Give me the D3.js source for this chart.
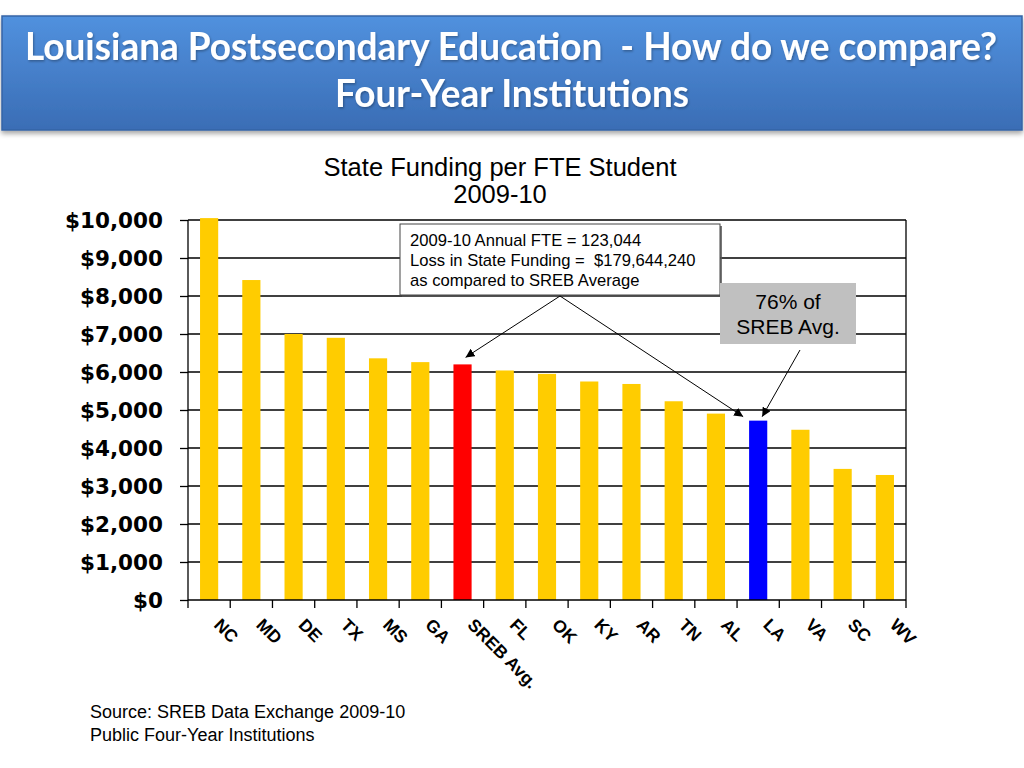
<!DOCTYPE html>
<html><head><meta charset="utf-8">
<script src="https://cdn.jsdelivr.net/npm/d3@7"></script>
<style>body{margin:0;background:#fff;}svg{display:block;}text{white-space:pre;}</style>
</head><body>
<svg id="c" width="1024" height="768"></svg>
<script>
const states = ["NC","MD","DE","TX","MS","GA","SREB Avg.","FL","OK","KY","AR","TN","AL","LA","VA","SC","WV"];
const funding = [10050,8420,7000,6900,6360,6260,6200,6040,5950,5750,5685,5230,4905,4720,4480,3450,3290];
const yTicks = [0,1000,2000,3000,4000,5000,6000,7000,8000,9000,10000];
const titleLines = ["Louisiana Postsecondary Education  - How do we compare?","Four-Year Institutions"];
const chartTitle = ["State Funding per FTE Student","2009-10"];
const noteLines = ["2009-10 Annual FTE = 123,044","Loss in State Funding =  $179,644,240","as compared to SREB Average"];
const calloutLines = ["76% of","SREB Avg."];
const sourceLines = ["Source: SREB Data Exchange 2009-10","Public Four-Year Institutions"];

const svg = d3.select("#c");
const defs = svg.append("defs");
const g1 = defs.append("linearGradient").attr("id","hdr").attr("x1",0).attr("y1",0).attr("x2",0).attr("y2",1);
g1.append("stop").attr("offset","0%").attr("stop-color","#5191de");
g1.append("stop").attr("offset","100%").attr("stop-color","#3a6db5");
const f = defs.append("filter").attr("id","sh").attr("x","-5%").attr("y","-10%").attr("width","110%").attr("height","130%");
f.append("feDropShadow").attr("dx",0).attr("dy",3).attr("stdDeviation",2.5).attr("flood-color","#000").attr("flood-opacity",0.35);
const ft = defs.append("filter").attr("id","tsh").attr("x","-5%").attr("y","-20%").attr("width","110%").attr("height","150%");
ft.append("feDropShadow").attr("dx",1).attr("dy",1.5).attr("stdDeviation",1).attr("flood-color","#000").attr("flood-opacity",0.3);
defs.append("marker").attr("id","ah").attr("viewBox","0 0 10 10").attr("refX",10).attr("refY",5)
  .attr("markerWidth",9).attr("markerHeight",9).attr("markerUnits","userSpaceOnUse").attr("orient","auto")
  .append("path").attr("d","M0,0L10,5L0,10z").attr("fill","#000");

// header
svg.append("rect").attr("x",2).attr("y",16).attr("width",1020).attr("height",114)
  .attr("fill","url(#hdr)").attr("stroke","#3464a6").attr("stroke-width",1.5).attr("filter","url(#sh)");
const tl = svg.append("g").attr("font-family","Lato, 'Open Sans', sans-serif").attr("font-weight","bold")
  .attr("fill","#fff").attr("text-anchor","middle").attr("font-size",38).attr("filter","url(#tsh)");
tl.append("text").attr("x",511).attr("y",60).attr("textLength",972).attr("lengthAdjust","spacingAndGlyphs").text(titleLines[0]);
tl.append("text").attr("x",512).attr("y",107).attr("textLength",354).attr("lengthAdjust","spacingAndGlyphs").text(titleLines[1]);

// chart title
const ct = svg.append("g").attr("font-family","'Liberation Sans', Arial, sans-serif").attr("font-size",25.5).attr("text-anchor","middle").attr("fill","#000");
ct.append("text").attr("x",500).attr("y",176).text(chartTitle[0]);
ct.append("text").attr("x",500).attr("y",203).text(chartTitle[1]);

// scales
const L = 188, R = 906, T = 220, B = 600;
const x = d3.scaleBand().domain(states).range([L,R]).padding(0);
const y = d3.scaleLinear().domain([0,10000]).range([B,T]);
const bw = x.bandwidth()*0.43;

// gridlines
svg.append("g").selectAll("line").data(yTicks.filter(d=>d>0)).join("line")
  .attr("x1",L).attr("x2",R).attr("y1",d=>y(d)).attr("y2",d=>y(d))
  .attr("stroke","#000").attr("stroke-width",1.3);
svg.append("line").attr("x1",R).attr("x2",R).attr("y1",T).attr("y2",B).attr("stroke","#000").attr("stroke-width",1.3);

// bars
svg.append("g").selectAll("rect").data(states).join("rect")
  .attr("x",d=>x(d)+x.bandwidth()/2-bw/2).attr("width",bw)
  .attr("y",(d,i)=>y(funding[i])).attr("height",(d,i)=>B-y(funding[i]))
  .attr("fill",d=>d==="SREB Avg."?"#ff0000":(d==="LA"?"#0000ff":"#ffcc00"));

// y axis
const ya = svg.append("g").attr("transform",`translate(${L},0)`)
  .call(d3.axisLeft(y).tickValues(yTicks).tickSize(8).tickPadding(17).tickFormat(d=>"$"+d3.format(",")(d)));
ya.select(".domain").attr("stroke","#000").attr("stroke-width",1.3).attr("d",`M0,${T}V${B}`);
ya.selectAll(".tick line").attr("stroke","#000").attr("stroke-width",1.3);
ya.selectAll("text").attr("font-family","'DejaVu Sans', sans-serif").attr("font-weight","bold").attr("font-size",21.5).attr("fill","#000").attr("dy","0.36em");

// x axis
const xa = svg.append("g").attr("transform",`translate(0,${B})`)
  .call(d3.axisBottom(x).tickSize(0).tickFormat(""));
xa.select(".domain").attr("stroke","#000").attr("stroke-width",1.3).attr("d",`M${L},0H${R}`);
xa.selectAll(".tick text").remove();
const edges = states.map(s=>x(s)).concat([R]);
xa.append("g").selectAll("line").data(edges).join("line")
  .attr("x1",d=>d).attr("x2",d=>d).attr("y1",0).attr("y2",8).attr("stroke","#000").attr("stroke-width",1.3);
svg.append("g").selectAll("text").data(states).join("text")
  .attr("transform",d=>`translate(${x(d)+x.bandwidth()/2+4},${B+26}) rotate(45)`)
  .attr("font-family","'Liberation Sans', Arial, sans-serif").attr("font-weight","bold").attr("font-size",17.5)
  .attr("fill","#000").text(d=>d);

// annotation box
svg.append("rect").attr("x",402).attr("y",226).attr("width",320).attr("height",71).attr("fill","#555").attr("opacity",0.8);
svg.append("rect").attr("x",400).attr("y",224).attr("width",320).attr("height",71).attr("fill","#fff").attr("stroke","#444").attr("stroke-width",1);
svg.append("g").attr("font-family","'Liberation Sans', Arial, sans-serif").attr("font-size",16.6).attr("fill","#000")
  .selectAll("text").data(noteLines).join("text").attr("x",410).attr("y",(d,i)=>245.5+i*20.3).text(d=>d);

// arrows from annotation
const apex = [560,296];
const sx = x("SREB Avg.")+x.bandwidth()/2, lx = x("LA")+x.bandwidth()/2;
svg.append("line").attr("x1",apex[0]).attr("y1",apex[1]).attr("x2",sx+3).attr("y2",y(funding[6])-7)
  .attr("stroke","#000").attr("stroke-width",1).attr("marker-end","url(#ah)");
svg.append("line").attr("x1",apex[0]).attr("y1",apex[1]).attr("x2",lx-15).attr("y2",y(funding[13])-4)
  .attr("stroke","#000").attr("stroke-width",1).attr("marker-end","url(#ah)");

// callout
svg.append("rect").attr("x",720).attr("y",283).attr("width",136).attr("height",61).attr("fill","#c0c0c0");
svg.append("g").attr("font-family","'Liberation Sans', Arial, sans-serif").attr("font-size",21).attr("fill","#000").attr("text-anchor","middle")
  .selectAll("text").data(calloutLines).join("text").attr("x",788).attr("y",(d,i)=>309+i*25).text(d=>d);
svg.append("line").attr("x1",800).attr("y1",350).attr("x2",lx+4).attr("y2",y(funding[13])-4)
  .attr("stroke","#000").attr("stroke-width",1).attr("marker-end","url(#ah)");

// source
svg.append("g").attr("font-family","'Liberation Sans', Arial, sans-serif").attr("font-size",18).attr("fill","#000")
  .selectAll("text").data(sourceLines).join("text").attr("x",90).attr("y",(d,i)=>718+i*23).text(d=>d);
</script>
</body></html>
